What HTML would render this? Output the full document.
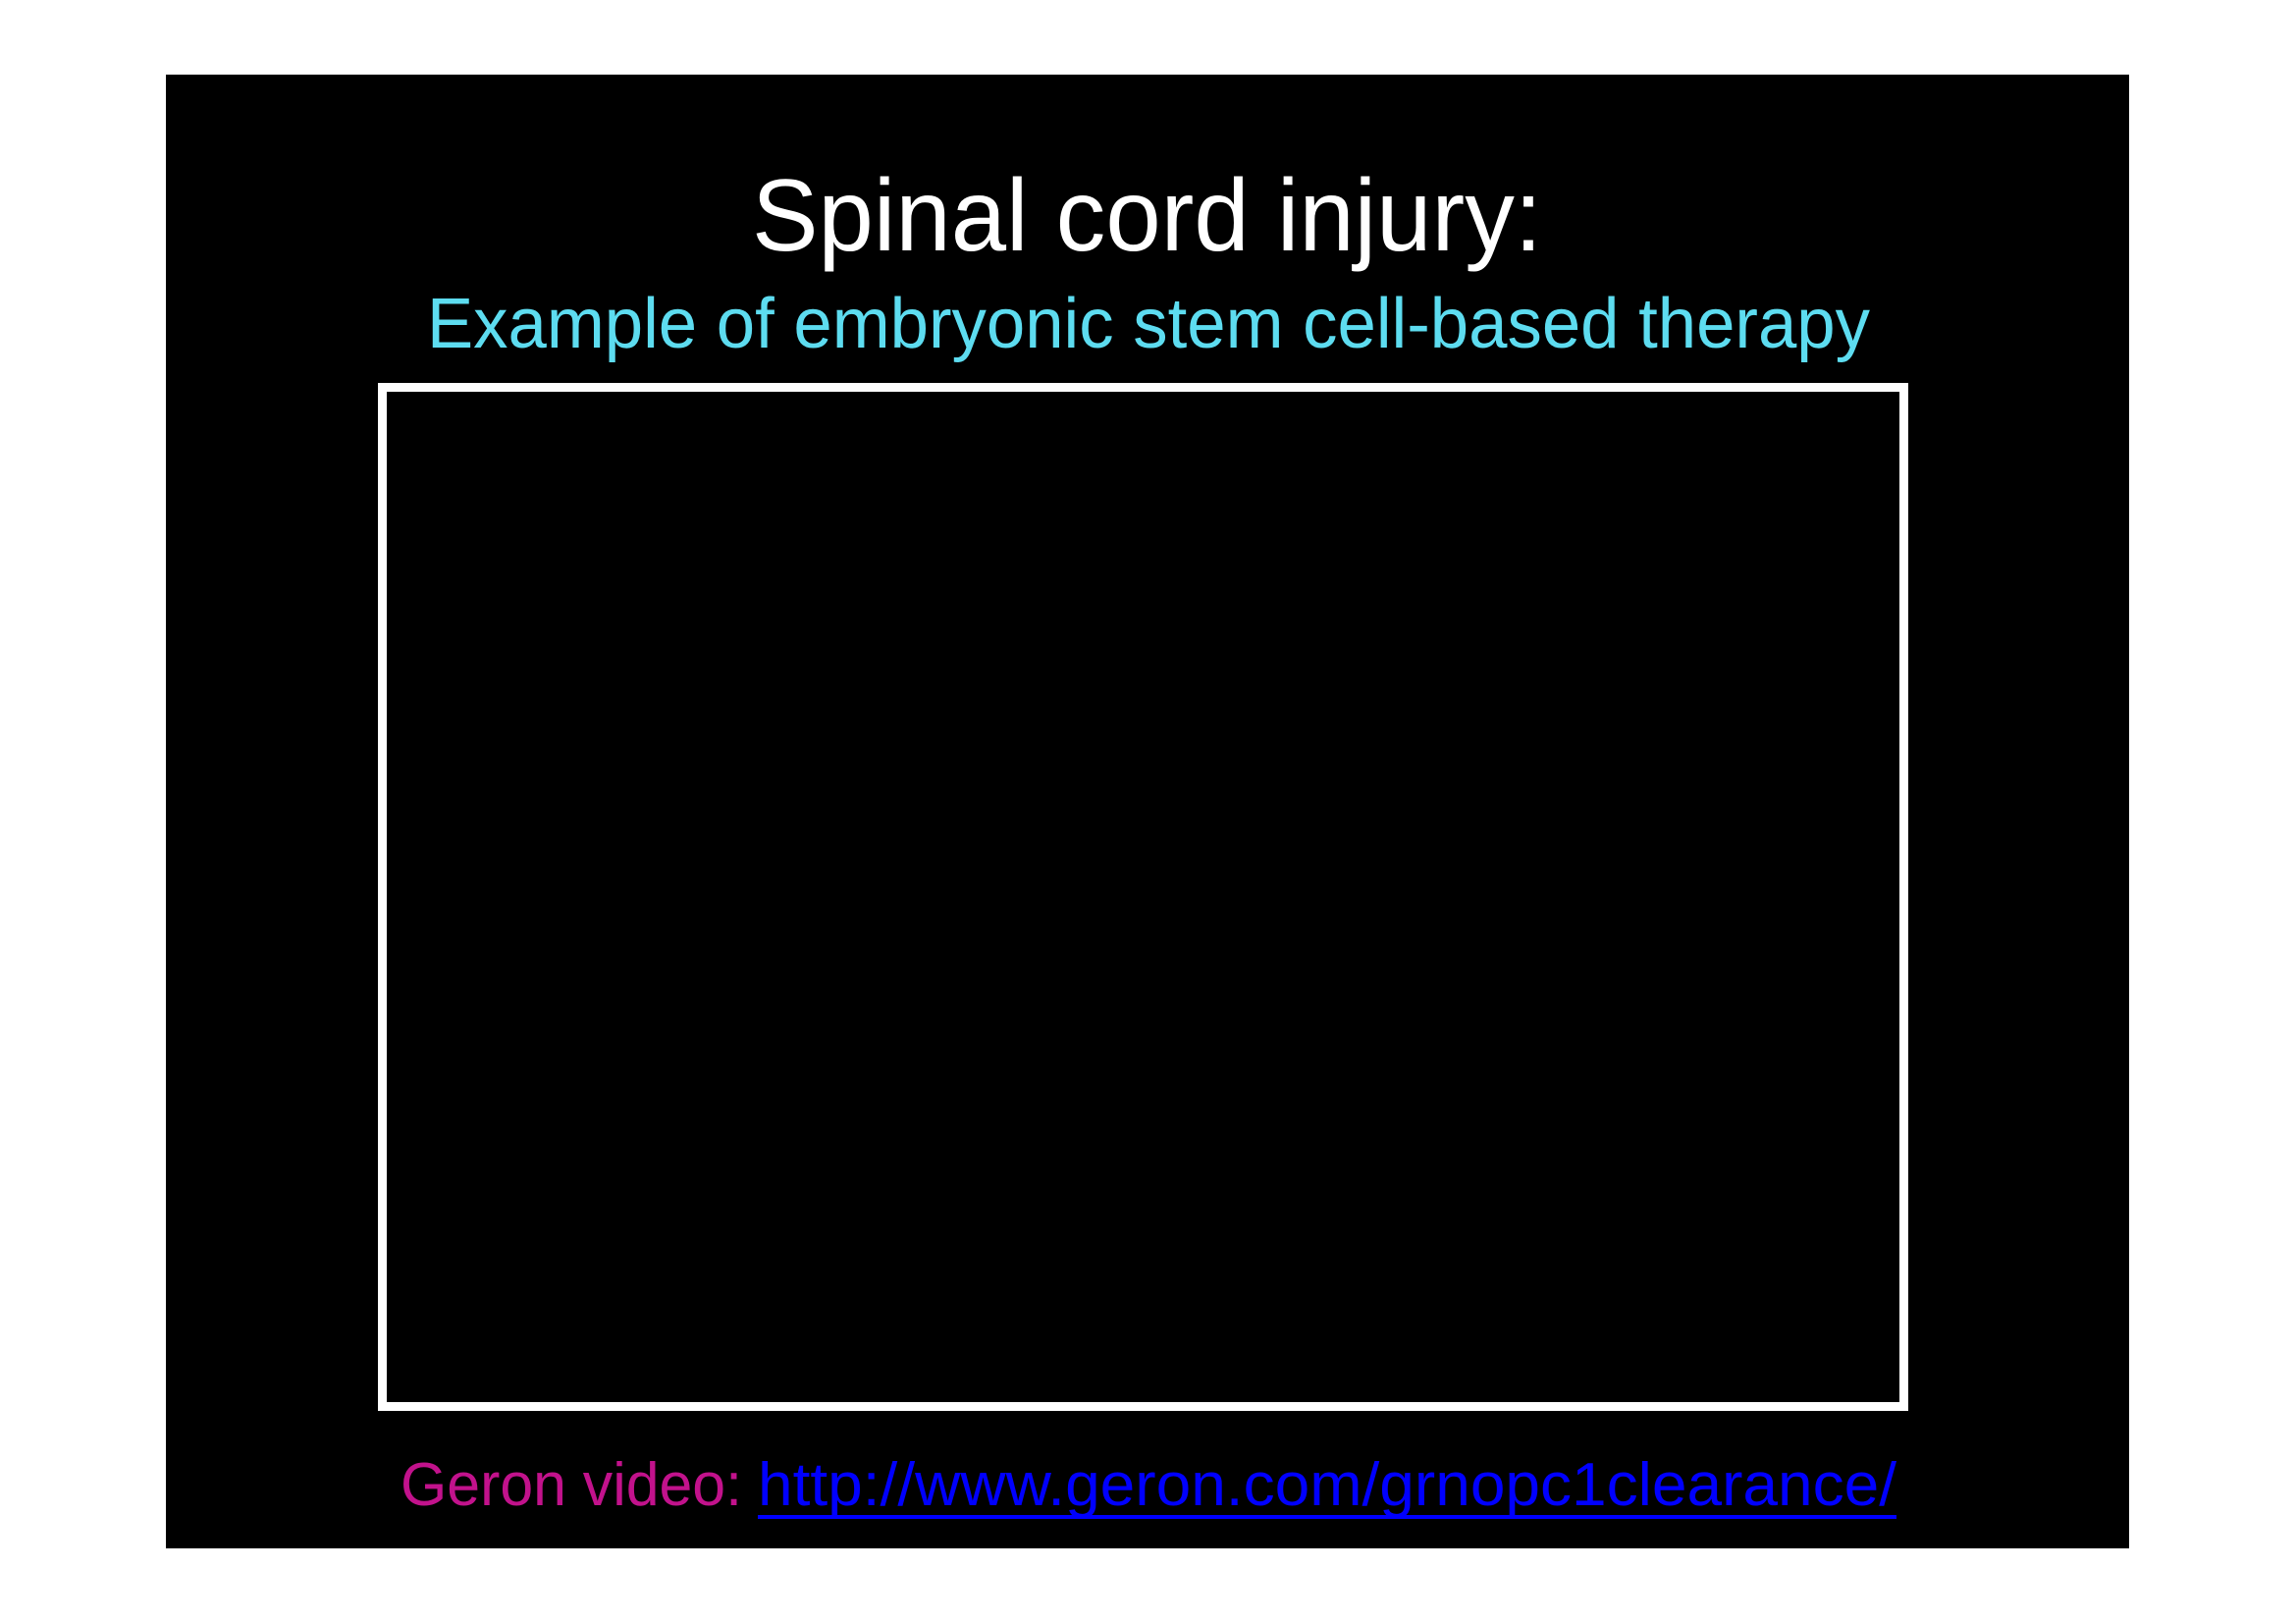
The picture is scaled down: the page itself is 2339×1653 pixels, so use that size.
<!DOCTYPE html>
<html><head><meta charset="utf-8"><style>
html,body{margin:0;padding:0;background:#fff;}
svg{display:block;}
</style></head><body>
<svg width="2339" height="1653" viewBox="0 0 2339 1653" xmlns="http://www.w3.org/2000/svg">
<rect x="0" y="0" width="2339" height="1653" fill="#fff"/>
<rect x="169" y="76" width="2000" height="1501" fill="#000"/>
<rect x="389.5" y="394.5" width="1550" height="1038" fill="none" stroke="#fff" stroke-width="9"/>
<text x="766" y="255" font-family="Liberation Sans, sans-serif" font-size="104" fill="#fff" textLength="805" lengthAdjust="spacingAndGlyphs">Spinal cord injury:</text>
<text x="435" y="354" font-family="Liberation Sans, sans-serif" font-size="72" fill="#5ddcf0" textLength="1470" lengthAdjust="spacingAndGlyphs">Example of embryonic stem cell-based therapy</text>
<text x="408" y="1533" font-family="Liberation Sans, sans-serif" font-size="62" fill="#c2128c" textLength="348" lengthAdjust="spacingAndGlyphs">Geron video:</text>
<text x="772" y="1533" font-family="Liberation Sans, sans-serif" font-size="62" fill="#0000ff" textLength="1160" lengthAdjust="spacingAndGlyphs">http://www.geron.com/grnopc1clearance/</text>
<rect x="772" y="1543" width="1160" height="4" fill="#0000ff"/>
</svg>
</body></html>
